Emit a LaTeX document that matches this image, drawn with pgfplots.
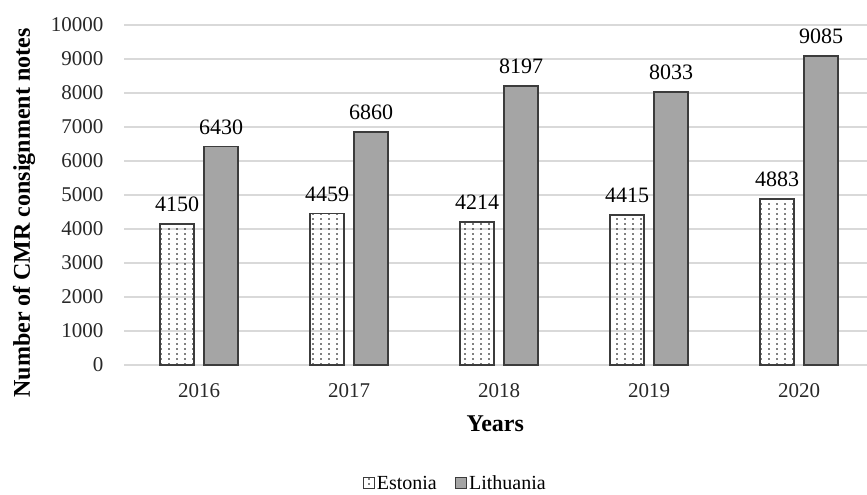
\documentclass[border=0pt]{standalone}
\usepackage{fontspec}
\setmainfont{Liberation Serif}
\usepackage{pgfplots}
\pgfplotsset{compat=1.18}
\usetikzlibrary{patterns}
\pgfdeclarepatternformonly{mydots}{\pgfqpoint{-1pt}{-1pt}}{\pgfqpoint{3pt}{3pt}}{\pgfqpoint{8pt}{5pt}}{\pgfpathcircle{\pgfqpoint{1pt}{1pt}}{0.9pt}\pgfusepath{fill}}
\definecolor{litgray}{RGB}{165,165,165}
\definecolor{edgegray}{RGB}{60,60,60}
\definecolor{gridgray}{RGB}{217,217,217}
\definecolor{ticktext}{RGB}{40,40,40}
\begin{document}
\begin{tikzpicture}[x=1pt,y=1pt]
\path[use as bounding box] (0,0) rectangle (867,495);
\begin{axis}[
  at={(124pt,130pt)}, anchor=south west,
  scale only axis, width=742.5pt, height=340pt,
  ymin=0, ymax=10000, ytick={0,1000,...,10000},
  scaled y ticks=false,
  xmin=-0.5, xmax=4.45,
  xtick={0,1,2,3,4}, xticklabels={2016,2017,2018,2019,2020},
  ybar=10pt, bar width=34pt,
  ymajorgrids, grid style={gridgray, line width=1.3pt},
  axis line style={draw=none},
  major tick length=0pt,
  /pgf/number format/assume math mode=true,
  /pgf/number format/1000 sep={},
  tick label style={font=\fontsize{21}{21}\selectfont, text=ticktext},
  yticklabel style={xshift=-17pt},
  xticklabel style={yshift=-15pt},
  ylabel={\textbf{Number of CMR consignment notes}},
  ylabel style={font=\fontsize{24}{24}\selectfont, yshift=9pt, xshift=-18pt},
  xlabel={\textbf{Years}},
  xlabel style={font=\fontsize{24}{24}\selectfont, yshift=-11pt},
  legend style={draw=none, at={(0.446,-0.348)}, anchor=center, legend columns=2,
    font=\fontsize{20}{20}\selectfont, /tikz/every even column/.append style={column sep=16pt}},
  legend image code/.code={\draw[#1, line width=1.2pt] (0pt,-5.5pt) rectangle (11pt,5.5pt);},
  nodes near coords,
  every node near coord/.append style={font=\fontsize{22}{22}\selectfont, black, yshift=8pt},
]
\addplot[draw=edgegray, line width=1.6pt, pattern=mydots, pattern color=black]
  coordinates {(0,4150) (1,4459) (2,4214) (3,4415) (4,4883)};
\addplot[draw=edgegray, line width=1.6pt, fill=litgray]
  coordinates {(0,6430) (1,6860) (2,8197) (3,8033) (4,9085)};
\legend{Estonia, Lithuania}
\end{axis}
\end{tikzpicture}
\end{document}
